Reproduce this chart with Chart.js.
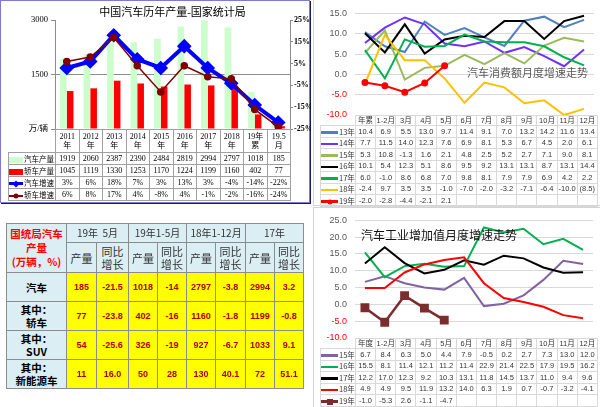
<!DOCTYPE html>
<html>
<head>
<meta charset="utf-8">
<script src="https://cdn.jsdelivr.net/npm/chart.js@4.4.1/dist/chart.umd.min.js"></script>
<style>
  html,body{margin:0;padding:0;background:#fff;}
  body{width:600px;height:407px;position:relative;overflow:hidden;font-family:"Noto Sans CJK SC","Liberation Sans",sans-serif;}
  .abs{position:absolute;}
  canvas{display:block;}
  table{border-collapse:collapse;table-layout:fixed;}
  td{padding:0;overflow:hidden;white-space:nowrap;text-align:center;}
  #panelA{left:0;top:0;width:308px;height:201px;border:1px solid #7b7bd6;box-shadow:1px 1px 0 #1c1c5c;}
  #panelB{left:313px;top:0;width:286px;height:205px;border:1px solid #d4d4d4;border-top:none;}
  #panelC{left:313px;top:207px;width:286px;height:199px;border:1px solid #d4d4d4;}
  #ttlA{left:55px;top:3px;width:235px;text-align:center;font-family:"Liberation Serif","Noto Sans CJK SC",serif;font-size:11px;color:#000;white-space:nowrap;}
  #tblA{left:8px;top:129px;width:282px;font-family:"Liberation Serif","Noto Sans CJK SC",serif;font-size:8px;color:#000;}
  #tblA td{border:1px solid #a0a0a0;line-height:9px;}
  #tblA td.lg{text-align:left;font-family:"Noto Sans CJK SC",sans-serif;font-size:7.5px;}
  #tblB,#tblC{left:320px;width:277px;font-family:"Liberation Sans","Noto Sans CJK SC",sans-serif;font-size:7.5px;color:#333;}
  #tblB{top:115px;}
  #tblC{top:338px;}
  #tblB td,#tblC td{border:1px solid #d9d9d9;line-height:9px;}
  #tblB td.lg,#tblC td.lg{text-align:left;font-family:"Noto Sans CJK SC",sans-serif;}
  .sw{display:inline-block;vertical-align:middle;position:relative;margin-right:1px;}
  .mk{position:absolute;left:50%;top:50%;}
  #ttlB{left:467px;top:64px;font-size:11px;color:#595959;white-space:nowrap;}
  #ttlC{left:361px;top:226px;font-size:12px;color:#111;white-space:nowrap;}
  #tblS{left:6px;top:223px;width:297px;font-size:10px;}
  #tblS td{border:1px solid #8c8c8c;line-height:12px;}
  #tblS td.hd{background:#dbeef4;color:#333;}
  #tblS td.rl{background:#dbeef4;color:#000;font-weight:bold;font-size:10.5px;}
  #tblS td.dv{background:#ffff00;color:#b00000;font-weight:bold;font-size:9px;font-family:"Liberation Sans","Noto Sans CJK SC",sans-serif;}
  #tblS td.gl{border-left:1px solid #404040;}
  #tblS tr.dk td{border-top:1px solid #404040;}
</style>
</head>
<body>
<div id="panelA" class="abs"></div>
<div id="panelB" class="abs"></div>
<div id="panelC" class="abs"></div>
<canvas id="cA" class="abs" width="311" height="204" style="left:0;top:0;width:311px;height:204px;"></canvas>
<canvas id="cB" class="abs" width="287" height="206" style="left:313px;top:0;width:287px;height:206px;"></canvas>
<canvas id="cC" class="abs" width="287" height="200" style="left:313px;top:207px;width:287px;height:200px;"></canvas>
<div id="ttlA" class="abs">中国汽车历年产量-国家统计局</div>
<table id="tblA" class="abs"></table>
<table id="tblB" class="abs"></table>
<table id="tblC" class="abs"></table>
<div id="ttlB" class="abs">汽车消费额月度增速走势</div>
<div id="ttlC" class="abs">汽车工业增加值月度增速走势</div>
<table id="tblS" class="abs"></table>
<script>
// ---------- Panel A: 中国汽车历年产量-国家统计局 ----------
const yearLabels = ['2011年','2012年','2013年','2014年','2015年','2016年','2017年','2018年','19年累','19.5月'];
const autoOutput = [1919,2060,2387,2390,2484,2819,2994,2797,1018,185];
const carOutput  = [1045,1119,1330,1253,1170,1224,1199,1160,402,77];
const autoGrowth = [3,6,18,7,3,13,3,-4,-14,-22];
const carGrowth  = [6,8,17,4,-8,4,-1,-2,-16,-24];
const outTicks   = [0,1500,3000];
const pctTicks   = [-25,-15,-5,5,15,25];

// ---------- Panel B: 汽车消费额月度增速走势 ----------
const monthLabelsB = ['年累','1-2月','3月','4月','5月','6月','7月','8月','9月','10月','11月','12月'];
const cons13 = [10.4,6.9,5.5,13.0,9.7,11.4,9.1,7.0,13.2,14.2,11.6,13.4];
const cons14 = [7.7,11.5,14.0,12.3,7.6,6.9,8.1,5.3,6.7,4.5,2.0,6.1];
const cons15 = [5.3,10.8,-1.3,1.6,2.1,4.8,2.5,5.2,2.7,7.1,9.0,8.1];
const cons16 = [10.1,5.4,12.3,5.1,8.6,9.5,9.2,13.1,13.1,8.7,13.1,14.4];
const cons17 = [6.0,-1.0,8.6,6.8,7.0,9.8,8.1,7.9,7.9,6.9,4.2,2.2];
const cons18 = [-2.4,9.7,3.5,3.5,-1.0,-7.0,-2.0,-3.2,-7.1,-6.4,-10.0,-8.5];
const cons18Text = ['-2.4','9.7','3.5','3.5','-1.0','-7.0','-2.0','-3.2','-7.1','-6.4','-10.0','(8.5)'];
const cons19 = [-2.0,-2.8,-4.4,-2.1,2.1];

// ---------- Panel C: 汽车工业增加值月度增速走势 ----------
const monthLabelsC = ['年度','1-2月','3月','4月','5月','6月','7月','8月','9月','10月','11月','12月'];
const ind15 = [6.7,8.4,6.3,5.0,4.4,7.9,-0.5,0.2,2.7,7.3,13.0,12.0];
const ind16 = [15.5,8.1,11.4,12.1,11.2,11.4,22.9,21.4,22.5,17.9,19.5,16.2];
const ind17 = [12.2,17.0,12.3,9.2,10.3,13.1,11.8,14.5,13.7,11.0,9.4,9.6];
const ind18 = [4.9,4.9,9.5,11.9,13.2,14.0,6.3,1.9,0.7,-0.7,-3.2,-4.1];
const ind19 = [-1.0,-5.3,2.6,-1.1,-4.7];

// ---------- Panel D: 国统局汽车产量 table ----------
const statPeriods = ['19年&nbsp;&nbsp;5月','19年1-5月','18年1-12月','17年'];
const statRows  = ['汽车','其中：<br>轿车','其中：<br>SUV','其中：<br>新能源车'];
const statAuto  = ['185','-21.5','1018','-14','2797','-3.8','2994','3.2'];
const statCar   = ['77','-23.8','402','-16','1160','-1.8','1199','-0.8'];
const statSuv   = ['54','-25.6','326','-19','927','-6.7','1033','9.1'];
const statNev   = ['11','16.0','50','28','130','40.1','72','51.1'];

Chart.defaults.animation = false;
Chart.defaults.plugins.legend.display = false;
Chart.defaults.plugins.tooltip.enabled = false;

const serif = '"Liberation Serif","Noto Sans CJK SC",serif';
const sans = '"Liberation Sans","Noto Sans CJK SC",sans-serif';

// ---- Chart A ----
new Chart(document.getElementById('cA'), {
  type: 'bar',
  data: {
    labels: yearLabels,
    datasets: [
      {type:'line', label:'轿车增速', data:carGrowth, yAxisID:'y1', borderColor:'#800000', backgroundColor:'#800000',
       borderWidth:1.5, pointStyle:'circle', pointRadius:3, tension:0, order:0},
      {type:'line', label:'汽车增速', data:autoGrowth, yAxisID:'y1', borderColor:'#0000ff', backgroundColor:'#0000ff',
       borderWidth:4, pointStyle:'rectRot', pointRadius:4.5, tension:0, order:1},
      {label:'汽车产量', data:autoOutput, yAxisID:'y', backgroundColor:'#ccffcc', categoryPercentage:0.57, barPercentage:1, order:2},
      {label:'轿车产量', data:carOutput, yAxisID:'y', backgroundColor:'#ff0000', categoryPercentage:0.57, barPercentage:1, order:3}
    ]
  },
  options: {
    responsive:false,
    layout:{padding:{left:0,right:0,top:20,bottom:75}},
    scales:{
      x:{display:false, offset:true},
      y:{position:'left', min:0, max:3000,
         afterBuildTicks(s){ s.ticks = outTicks.map(v=>({value:v})); },
         ticks:{callback:v=> v===0 ? '万/辆' : v, color:'#000', font:{family:serif,size:8.5}, padding:3},
         grid:{color:c=> (c.tick && c.tick.value===1500) ? '#8c8c8c' : 'rgba(0,0,0,0)', tickColor:'#8c8c8c', tickLength:4},
         border:{display:true,color:'#8c8c8c'},
         afterFit(s){ s.width = 55; }},
      y1:{position:'right', min:-25, max:25,
         afterBuildTicks(s){ s.ticks = pctTicks.map(v=>({value:v})); },
         ticks:{callback:v=> v+'%', color:'#000', font:{family:serif,size:8,weight:'bold'}, padding:1},
         grid:{drawOnChartArea:false, tickColor:'#8c8c8c', tickLength:3},
         border:{display:true,color:'#8c8c8c'},
         afterFit(s){ s.width = 21; }}
    }
  }
});

// Table A
(function(){
  const t = document.getElementById('tblA');
  let h = '<colgroup><col style="width:47px">' + yearLabels.map(()=> '<col style="width:23.5px">').join('') + '</colgroup>';
  h += '<tr style="height:23px"><td style="border:none;border-right:1px solid #a0a0a0"></td>' +
       yearLabels.map(l=> '<td>'+l.slice(0,-1)+'<br>'+l.slice(-1)+'</td>').join('') + '</tr>';
  const rows = [
    {sw:'<span class="sw" style="width:14px;height:6px;background:#ccffcc"></span>', name:'汽车产量', vals:autoOutput.map(String)},
    {sw:'<span class="sw" style="width:14px;height:6px;background:#ff0000"></span>', name:'轿车产量', vals:carOutput.map(String)},
    {sw:'<span class="sw" style="width:14px;height:3px;background:#0000ff"><span class="mk" style="width:5px;height:5px;background:#0000ff;transform:translate(-50%,-50%) rotate(45deg)"></span></span>', name:'汽车增速', vals:autoGrowth.map(v=>v+'%')},
    {sw:'<span class="sw" style="width:14px;height:2px;background:#800000"><span class="mk" style="width:5px;height:5px;border-radius:50%;background:#800000;transform:translate(-50%,-50%)"></span></span>', name:'轿车增速', vals:carGrowth.map(v=>v+'%')}
  ];
  rows.forEach(r=>{
    h += '<tr style="height:12px"><td class="lg">'+r.sw+r.name+'</td>' + r.vals.map(v=>'<td>'+v+'</td>').join('') + '</tr>';
  });
  t.innerHTML = h;
})();

// ---- Chart B & C helpers ----
function lineDs(label, data, color, order, extra){
  return Object.assign({label, data, borderColor:color, backgroundColor:color, borderWidth:2, pointRadius:0, tension:0, order}, extra||{});
}
function monthOpts(min, max, padBottom){
  return {
    responsive:false,
    layout:{padding:{left:0,right:3,top:6,bottom:padBottom}},
    scales:{
      x:{display:false, offset:true},
      y:{min, max, ticks:{stepSize:5, callback:v=> v.toFixed(1), color:c=> c.tick.value<0 ? '#ff0000' : '#595959', font:{family:sans,size:9}, padding:8},
         grid:{color:'#d9d9d9', drawTicks:false}, border:{display:false},
         afterFit(s){ s.width = 42; }}
    }
  };
}

new Chart(document.getElementById('cB'), {
  type:'line',
  data:{
    labels: monthLabelsB,
    datasets:[
      lineDs('13年', cons13, '#4f81bd', 6),
      lineDs('14年', cons14, '#7030ff', 5),
      lineDs('15年', cons15, '#9bbb59', 4),
      lineDs('16年', cons16, '#000000', 3),
      lineDs('17年', cons17, '#00b050', 2),
      lineDs('18年', cons18, '#ffc000', 1),
      lineDs('19年', cons19, '#ff0000', 0, {pointRadius:2.5, pointStyle:'circle'})
    ]
  },
  options: monthOpts(-10, 15, 91)
});

new Chart(document.getElementById('cC'), {
  type:'line',
  data:{
    labels: monthLabelsC,
    datasets:[
      lineDs('15年', ind15, '#8064a2', 4),
      lineDs('16年', ind16, '#00b050', 3),
      lineDs('17年', ind17, '#000000', 2),
      lineDs('18年', ind18, '#ff0000', 1),
      lineDs('19年', ind19, '#7b2c2c', 0, {borderWidth:2.5, pointStyle:'rect', pointRadius:4.5})
    ]
  },
  options: monthOpts(-10, 25, 69)
});

function monthTable(id, labels, series){
  const t = document.getElementById(id);
  const cw = 242/12;
  let h = '<colgroup><col style="width:35px">' + labels.map(()=> '<col style="width:'+cw+'px">').join('') + '</colgroup>';
  h += '<tr style="height:10px"><td style="border:none;border-right:1px solid #d9d9d9;border-bottom:1px solid #d9d9d9"></td>' + labels.map(l=>'<td>'+l+'</td>').join('') + '</tr>';
  series.forEach(s=>{
    let mk = '';
    if (s.marker==='dot') mk = '<span class="mk" style="width:5px;height:5px;border-radius:50%;background:'+s.color+';transform:translate(-50%,-50%)"></span>';
    if (s.marker==='sq') mk = '<span class="mk" style="width:6px;height:6px;background:'+s.color+';transform:translate(-50%,-50%)"></span>';
    const sw = '<span class="sw" style="width:17px;height:2.5px;background:'+s.color+'">'+mk+'</span>';
    const cells = labels.map((_,i)=>{
      const v = s.text ? s.text[i] : (s.data[i]===undefined ? '' : s.data[i].toFixed(1));
      return '<td>'+(v===undefined?'':v)+'</td>';
    }).join('');
    h += '<tr style="height:11.5px"><td class="lg">'+sw+s.name+'</td>'+cells+'</tr>';
  });
  t.innerHTML = h;
}
monthTable('tblB', monthLabelsB, [
  {name:'13年', data:cons13, color:'#4f81bd'},
  {name:'14年', data:cons14, color:'#7030ff'},
  {name:'15年', data:cons15, color:'#9bbb59'},
  {name:'16年', data:cons16, color:'#000000'},
  {name:'17年', data:cons17, color:'#00b050'},
  {name:'18年', data:cons18, color:'#ffc000', text:cons18Text},
  {name:'19年', data:cons19, color:'#ff0000', marker:'dot'}
]);
monthTable('tblC', monthLabelsC, [
  {name:'15年', data:ind15, color:'#8064a2'},
  {name:'16年', data:ind16, color:'#00b050'},
  {name:'17年', data:ind17, color:'#000000'},
  {name:'18年', data:ind18, color:'#ff0000'},
  {name:'19年', data:ind19, color:'#7b2c2c', marker:'sq'}
]);

// Table D
(function(){
  const t = document.getElementById('tblS');
  const widths = [60,30,32,29,29,29,30,29,29];
  let h = '<colgroup>' + widths.map(w=>'<col style="width:'+w+'px">').join('') + '</colgroup>';
  h += '<tr style="height:19px"><td class="hd" rowspan="2" style="color:#ff0000;font-weight:bold;font-size:10.5px;line-height:14px">国统局汽车<br>产量<br>(万辆，%)</td>' +
       statPeriods.map((p,i)=>'<td class="hd'+(i>0?' gl':'')+'" colspan="2">'+p+'</td>').join('') + '</tr>';
  h += '<tr style="height:30px">' + statPeriods.map((p,i)=>'<td class="hd'+(i>0?' gl':'')+'" style="font-size:11px">产量</td><td class="hd" style="font-size:11px;line-height:13px">同比<br>增长</td>').join('') + '</tr>';
  const data = [statAuto, statCar, statSuv, statNev];
  statRows.forEach((r,ri)=>{
    h += '<tr style="height:29px"'+(ri>=2?' class="dk"':'')+'><td class="rl" style="line-height:13px">'+r+'</td>' +
         data[ri].map((v,i)=>'<td class="dv'+(i>0&&i%2===0?' gl':'')+'">'+v+'</td>').join('') + '</tr>';
  });
  t.innerHTML = h;
})();
</script>
</body>
</html>
